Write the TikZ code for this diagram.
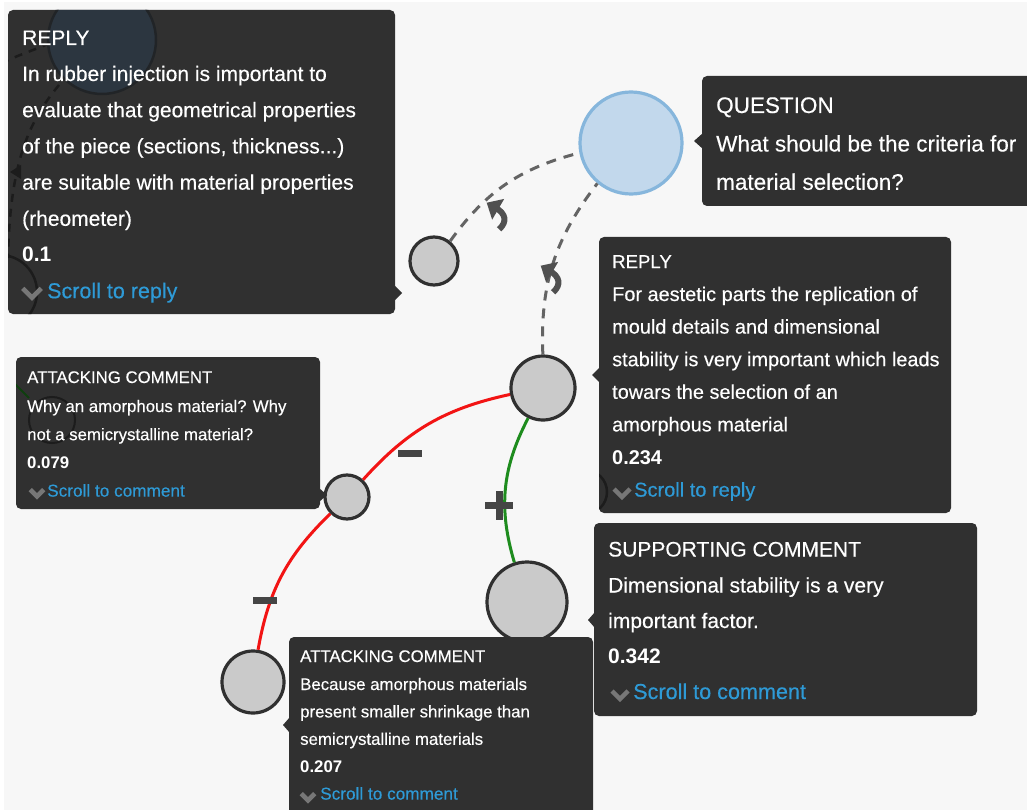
\documentclass[tikz,border=0pt]{standalone}
\usepackage{fontspec}
\setmainfont{Liberation Sans}[UprightFeatures={FakeBold=0.35}]
\usetikzlibrary{arrows.meta}
\definecolor{bg}{HTML}{F7F7F7}
\definecolor{boxc}{HTML}{303030}
\definecolor{linkc}{HTML}{2E9AD6}
\definecolor{nodefill}{HTML}{CACACA}
\definecolor{nodeline}{HTML}{303030}
\definecolor{qfill}{HTML}{C2D8EC}
\definecolor{qline}{HTML}{86B6DC}
\definecolor{attackc}{HTML}{F21414}
\definecolor{supportc}{HTML}{1E8C1E}
\definecolor{dashc}{HTML}{646464}
\definecolor{iconc}{HTML}{505050}
\definecolor{signc}{HTML}{454545}
\definecolor{chevc}{HTML}{777777}
\definecolor{ghostfill}{HTML}{2C3640}
\definecolor{ghostline}{HTML}{1C1C1C}
\begin{document}
\begin{tikzpicture}[x=1pt,y=-1pt,
  arg/.style={circle, fill=nodefill, draw=nodeline, line width=3.2pt, inner sep=0pt, minimum size=#1},
  dashedge/.style={draw=dashc, line width=3pt, dash pattern=on 10pt off 8pt},
  attack/.style={draw=attackc, line width=3pt},
  support/.style={draw=supportc, line width=3pt},
  boxstyle/.style={fill=boxc, rounded corners=5pt},
  txt/.style={anchor=base west, inner sep=0pt, text=white},
  linktxt/.style={anchor=base west, inner sep=0pt, text=linkc},
  signbar/.style={fill=signc, inner sep=0pt, rectangle},
  ghost/.style={draw=ghostline, line width=2.5pt},
  replyicon/.pic={
    \fill[iconc] (-12,-2) -- (-1,-12) -- (-1,8) -- cycle;
    \draw[iconc, line width=6pt] (-3,-2) .. controls (6,-2) and (11,3) .. (8,12);
  },
  chev/.pic={\draw[chevc, line width=4.5pt] (-8,-4) -- (0,4) -- (8,-4);}
]
% background
\fill[white] (0,0) rectangle (1027,810);
\fill[bg] (4,2) rectangle (1027,810);
\useasboundingbox (0,0) rectangle (1027,810);

% argument nodes
\node[arg=102, fill=qfill, draw=qline] (q) at (631,143) {};
\node[arg=48] (r1) at (434,261) {};
\node[arg=64] (r2) at (543,388) {};
\node[arg=44] (a1) at (347,497) {};
\node[arg=80] (s) at (527,602) {};
\node[arg=62] (a2) at (253,682) {};

% connectors
\draw[dashedge] (r1) to[bend left=20] (q);
\draw[dashedge] (r2) to[bend left=20] (q);
\draw[attack] (a1) to[bend left=18] (r2);
\draw[attack] (a2) to[bend left=18] (a1);
\draw[support] (s) to[bend left=22] (r2);

% reply icons
\pic[rotate=-30, scale=1.2] at (498,212) {replyicon};
\pic[rotate=-30, scale=1.2] at (552,275) {replyicon};

% signs
\node[signbar, minimum width=24pt, minimum height=7pt] (minusA) at (410,453) {};
\node[signbar, minimum width=24pt, minimum height=7pt] (minusB) at (265,600) {};
\node[signbar, minimum width=28pt, minimum height=7pt] (plusH) at (499,505) {};
\node[signbar, minimum width=7pt, minimum height=29pt] (plusV) at (499,505) {};

% ===== top-left REPLY box =====
\path[boxstyle] (8,10) rectangle (395,314);
\fill[boxc] (394,285) -- (402,293) -- (394,301) -- cycle;
\begin{scope}
  \clip[rounded corners=5pt] (8,10) rectangle (395,314);
  \draw[ghost, fill=ghostfill, draw=ghostline!70!ghostfill] (102,40) circle (54);
  \draw[ghost, dash pattern=on 8pt off 7pt] (50,43) .. controls (35,50) and (20,54) .. (0,64);
  \draw[ghost, dash pattern=on 8pt off 7pt] (59,85) .. controls (30,120) and (10,160) .. (8,258);
  \fill[ghostline] (10,172) -- (21,165) -- (21,179) -- cycle;
  \draw[ghost] (0,292) circle (37);
\end{scope}
\node[txt, font=\fontsize{21}{21}\selectfont] (tltitle) at (22,45) {REPLY};
\node[txt, font=\fontsize{21}{36.2}\selectfont] (tlbody) at (22,81) {\parbox[t]{400pt}{In rubber injection is important to\\evaluate that geometrical properties\\of the piece (sections, thickness...)\\are suitable with material properties\\(rheometer)\\\textbf{0.1}}};
\pic[scale=1.15] at (32,293) {chev};
\node[linktxt, font=\fontsize{21.5}{21.5}\selectfont] (tlscroll) at (47,298.2) {Scroll to reply};

% ===== QUESTION box =====
\path[boxstyle] (702,76) rectangle (1040,206);
\fill[boxc] (703,133) -- (694,141) -- (703,149) -- cycle;
\node[txt, font=\fontsize{22.5}{22.5}\selectfont] (qtitle) at (716,113) {QUESTION};
\node[txt, font=\fontsize{22.5}{38.3}\selectfont] (qbody) at (716,151.5) {\parbox[t]{400pt}{What should be the criteria for\\material selection?}};

% ===== REPLY box 2 =====
\path[boxstyle] (599,237) rectangle (951,513);
\fill[boxc] (600,367) -- (592,375) -- (600,383) -- cycle;
\begin{scope}
  \clip[rounded corners=5pt] (599,237) rectangle (951,513);
  \draw[ghost] (585,492) circle (22);
\end{scope}
\node[txt, font=\fontsize{18.6}{18.6}\selectfont] (r2title) at (612,268) {REPLY};
\node[txt, font=\fontsize{19.9}{32.6}\selectfont] (r2body) at (612,301) {\parbox[t]{400pt}{For aestetic parts the replication of\\mould details and dimensional\\stability is very important which leads\\towars the selection of an\\amorphous material\\\textbf{0.234}}};
\pic at (622,493) {chev};
\node[linktxt, font=\fontsize{20}{20}\selectfont] (r2scroll) at (634,496.6) {Scroll to reply};

% ===== SUPPORTING box =====
\path[boxstyle] (594,523) rectangle (977,716);
\fill[boxc] (595,612) -- (588,620) -- (595,628) -- cycle;
\node[txt, font=\fontsize{21}{21}\selectfont] (stitle) at (608,556.5) {SUPPORTING COMMENT};
\node[txt, font=\fontsize{21}{35.5}\selectfont] (sbody) at (608,592.5) {\parbox[t]{400pt}{Dimensional stability is a very\\important factor.\\\textbf{0.342}}};
\pic at (620,695) {chev};
\node[linktxt, font=\fontsize{21.6}{21.6}\selectfont] (sscroll) at (633,699) {Scroll to comment};

% ===== ATTACKING box 1 =====
\path[boxstyle] (16,357) rectangle (320,509);
\fill[boxc] (319,488) -- (327,495) -- (319,502) -- cycle;
\begin{scope}
  \clip[rounded corners=5pt] (16,357) rectangle (320,509);
  \draw[ghostline, line width=2pt] (52,420) circle (23);
  \draw[supportc!45!black, line width=2pt] (12,381) -- (29,398);
\end{scope}
\node[txt, font=\fontsize{16.8}{16.8}\selectfont] (a1title) at (27,383) {ATTACKING COMMENT};
\node[txt, font=\fontsize{16.8}{28.2}\selectfont] (a1body) at (27,412) {\parbox[t]{400pt}{Why an amorphous material? Why\\not a semicrystalline material?\\\textbf{0.079}}};
\pic[scale=0.85] at (37,493) {chev};
\node[linktxt, font=\fontsize{17.2}{17.2}\selectfont] (a1scroll) at (47,496.6) {Scroll to comment};

% ===== ATTACKING box 2 =====
\path[boxstyle] (289,637) rectangle (593,830);
\fill[boxc] (290,717) -- (283,725) -- (290,733) -- cycle;
\node[txt, font=\fontsize{16.8}{16.8}\selectfont] (a2title) at (300,662) {ATTACKING COMMENT};
\node[txt, font=\fontsize{16.8}{27.4}\selectfont] (a2body) at (300,690) {\parbox[t]{400pt}{Because amorphous materials\\present smaller shrinkage than\\semicrystalline materials\\\textbf{0.207}}};
\pic[scale=0.85] at (308,797) {chev};
\node[linktxt, font=\fontsize{17.2}{17.2}\selectfont] (a2scroll) at (320,799.6) {Scroll to comment};
\end{tikzpicture}
\end{document}
